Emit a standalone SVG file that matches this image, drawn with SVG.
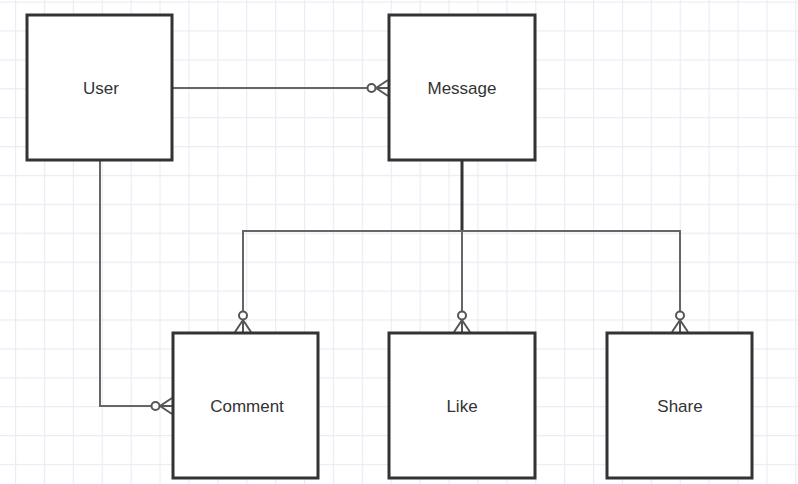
<svg xmlns="http://www.w3.org/2000/svg" width="798" height="484" viewBox="0 0 798 484">
  <defs>
    <pattern id="grid" x="15" y="1.5" width="28.9" height="28.9" patternUnits="userSpaceOnUse">
      <path d="M0 0.5 H28.9 M0.5 0 V28.9" fill="none" stroke="#ebebf5" stroke-width="1.3"/>
    </pattern>
    <g id="crow">
      <circle cx="-16.5" cy="0" r="4" fill="#fff" stroke="#555" stroke-width="2"/>
      <path d="M-12 0 L0 -8 M-12 0 L0 0 M-12 0 L0 8" fill="none" stroke="#555" stroke-width="2"/>
    </g>
  </defs>
  <style>
    .box { fill: #fff; stroke: #333; stroke-width: 3; }
    .lbl { font-family: "Liberation Sans", Arial, sans-serif; font-size: 17px; fill: #333; text-anchor: middle; dominant-baseline: central; }
    .conn { fill: none; stroke: #666; stroke-width: 2; }
  </style>
  <rect width="798" height="484" fill="#fff"/>
  <rect width="798" height="484" fill="url(#grid)"/>

  <g id="connectors">
    <path class="conn" d="M172 88 H373"/>
    <use href="#crow" transform="translate(388,88)"/>
    <path d="M462 160 V231" fill="none" stroke="#333" stroke-width="3"/>
    <path class="conn" d="M243 318 V231 H680 V318"/>
    <path class="conn" d="M462 231 V318"/>
    <use href="#crow" transform="translate(243,332) rotate(90)"/>
    <use href="#crow" transform="translate(462,332) rotate(90)"/>
    <use href="#crow" transform="translate(680,332) rotate(90)"/>
    <path class="conn" d="M100 160 V406 H157"/>
    <use href="#crow" transform="translate(172,406)"/>
  </g>

  <g id="user">
    <rect class="box" x="27" y="15" width="145" height="145"/>
    <text class="lbl" x="101" y="88">User</text>
  </g>
  <g id="message">
    <rect class="box" x="389" y="15" width="146" height="145"/>
    <text class="lbl" x="462" y="88">Message</text>
  </g>
  <g id="comment">
    <rect class="box" x="173" y="333" width="145" height="145"/>
    <text class="lbl" x="247" y="406">Comment</text>
  </g>
  <g id="like">
    <rect class="box" x="389" y="333" width="146" height="145"/>
    <text class="lbl" x="462" y="406">Like</text>
  </g>
  <g id="share">
    <rect class="box" x="607" y="333" width="145" height="145"/>
    <text class="lbl" x="680" y="406">Share</text>
  </g>
</svg>
